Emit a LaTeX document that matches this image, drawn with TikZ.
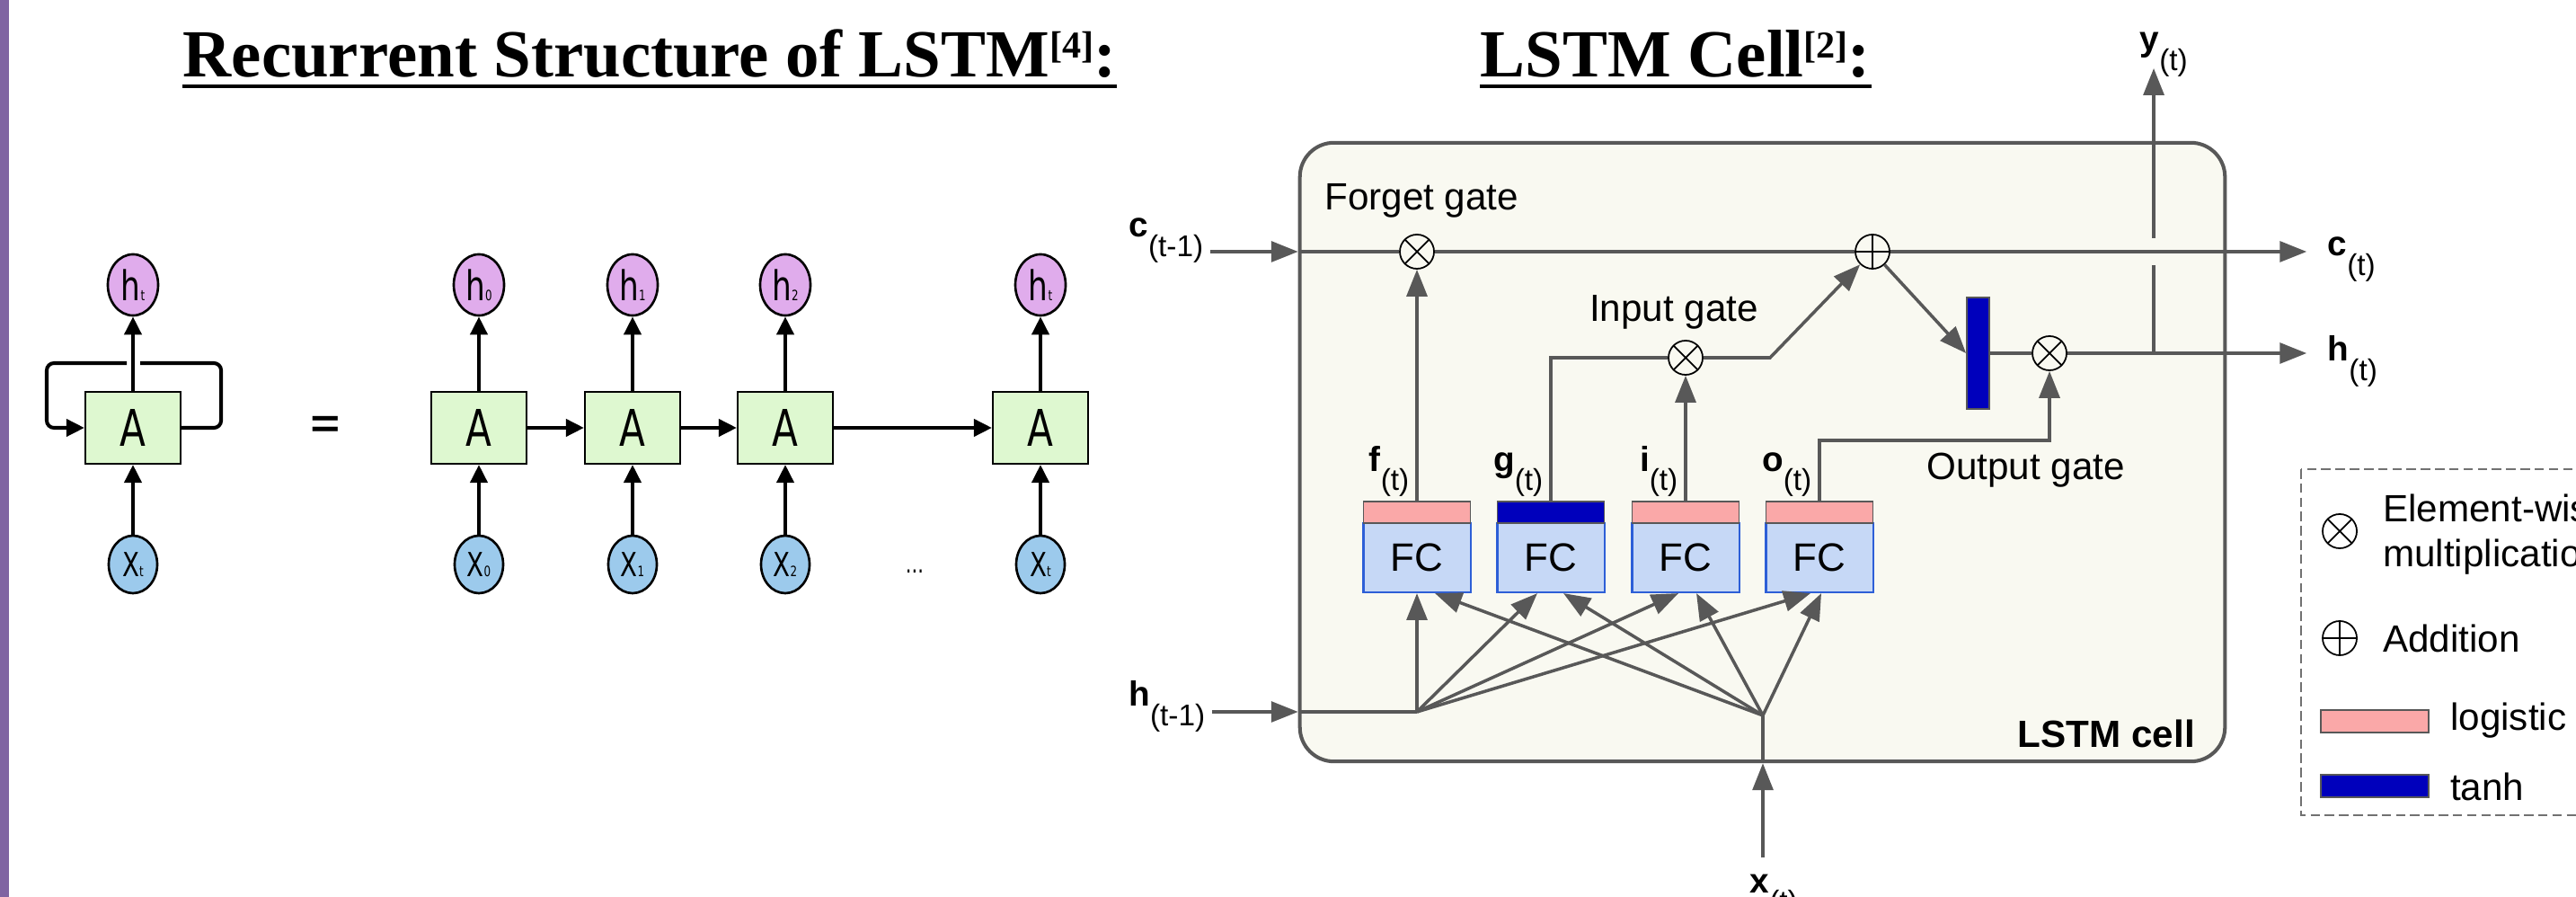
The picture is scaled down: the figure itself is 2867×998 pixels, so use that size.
\documentclass[tikz,border=0pt]{standalone}
\usepackage{fontspec}
\setmainfont{Liberation Sans}
\newfontfamily\titlefont{Liberation Serif}
\newfontfamily\chainfont{DejaVu Sans}[FakeStretch=0.75]
\usetikzlibrary{arrows.meta,shapes.geometric,positioning}

\definecolor{sidebar}{RGB}{128,100,162}
\definecolor{agreen}{RGB}{222,248,208}
\definecolor{hpurple}{RGB}{224,172,236}
\definecolor{xblue}{RGB}{156,202,236}
\definecolor{cellbg}{RGB}{249,249,241}
\definecolor{wire}{RGB}{88,88,88}
\definecolor{logi}{RGB}{250,168,168}
\definecolor{tanhc}{RGB}{0,0,188}
\definecolor{fcfill}{RGB}{198,216,246}
\definecolor{fcline}{RGB}{45,95,215}

\newcommand{\vlab}[2]{\textbf{#1}\raisebox{-6pt}{\fontsize{9.5}{9.5}\selectfont(#2)}}
\newcommand{\hlab}[1]{{\fontsize{13}{13}\selectfont h}{\fontsize{4.5}{4.5}\selectfont #1}}
\newcommand{\xlab}[1]{{\fontsize{10.5}{10.5}\selectfont X}{\fontsize{4.5}{4.5}\selectfont #1}}
\newcommand{\refmark}[1]{\raisebox{6pt}{\fontsize{12}{12}\selectfont[#1]}}

\tikzset{pxgrid/.style={x=0.01cm,y=-0.01cm}}
\tikzset{ttl/.style={inner sep=0pt,font=\titlefont\bfseries\fontsize{21.3}{21.3}\selectfont},
         abox/.style={draw=black,line width=0.6pt,fill=agreen,minimum width=1.06cm,minimum height=0.8cm,inner sep=0pt,font=\chainfont\fontsize{16}{16}\selectfont},
         hnode/.style={ellipse,draw=black,line width=0.75pt,fill=hpurple,minimum width=0.56cm,minimum height=0.68cm,inner sep=0pt,font=\chainfont},
         xnode/.style={ellipse,draw=black,line width=0.75pt,fill=xblue,minimum width=0.54cm,minimum height=0.64cm,inner sep=0pt,font=\chainfont},
         chain/.style={draw=black,line width=1.15pt,-{Triangle[length=5.7pt,width=5.4pt]}},
         chainl/.style={draw=black,line width=1.15pt}}
\tikzset{wirel/.style={draw=wire,line width=1pt},
         wirearr/.style={wirel,-{Triangle[length=8.5pt,width=6.5pt]}},
         cellbox/.style={draw=wire,line width=1.15pt,fill=cellbg,rounded corners=0.38cm,minimum width=10.29cm,minimum height=6.88cm},
         fcbody/.style={draw=fcline,line width=0.6pt,fill=fcfill,minimum width=1.19cm,minimum height=0.77cm,inner sep=0pt,font=\fontsize{12.5}{12.5}\selectfont},
         fcband/.style={draw=wire,line width=0.5pt,minimum width=1.19cm,minimum height=0.24cm,inner sep=0pt},
         tanhbar/.style={draw=wire,line width=0.5pt,fill=tanhc,minimum width=0.25cm,minimum height=1.24cm,inner sep=0pt},
         mult/.style={circle,draw=black,line width=0.5pt,fill=cellbg,minimum size=0.38cm,inner sep=0pt,
           path picture={\draw[line width=0.5pt] (path picture bounding box.north west) -- (path picture bounding box.south east)
                         (path picture bounding box.north east) -- (path picture bounding box.south west);}},
         plus/.style={circle,draw=black,line width=0.5pt,fill=cellbg,minimum size=0.38cm,inner sep=0pt,
           path picture={\draw[line width=0.5pt] (path picture bounding box.north) -- (path picture bounding box.south)
                         (path picture bounding box.west) -- (path picture bounding box.east);}},
         gtext/.style={inner sep=1pt,font=\fontsize{12}{14.2}\selectfont},
         iolab/.style={inner sep=2pt,font=\fontsize{11}{11}\selectfont},
         legbar/.style={draw=wire,line width=0.6pt,minimum width=1.2cm,minimum height=0.25cm,inner sep=0pt}}

\begin{document}
\begin{tikzpicture}[pxgrid]
    \useasboundingbox (0,0) rectangle (2867,998);
    \fill[sidebar] (0,0) rectangle (10,998);
    % titles
    \node[ttl,anchor=base west] (ttlrec) at (203,86) {Recurrent Structure of LSTM\refmark{4}:};
    \node[ttl,anchor=base west] (ttlcell) at (1647,86) {LSTM Cell\refmark{2}:};
    \draw[line width=1.4pt] ([yshift=-2.85pt]ttlrec.base west) -- ([yshift=-2.85pt]ttlrec.base east);
    \draw[line width=1.4pt] ([yshift=-2.85pt]ttlcell.base west) -- ([yshift=-2.85pt]ttlcell.base east);

    % folded RNN
    \node[abox] (ar) at (148,476) {A};
    \node[hnode] (hr) at (148,317) {\hlab{t}};
    \node[xnode] (xr) at (148,628) {\xlab{t}};
    \draw[chain] (xr) -- (ar);
    \draw[chain] (ar) -- (hr);
    \coordinate (lgapr) at (156,404);
    \coordinate (lgapl) at (141,404);
    \draw[chainl,rounded corners=2.3pt] (ar.east) -- ++(44,0) |- (lgapr);
    \draw[chain,rounded corners=2.3pt] (lgapl) -- ++(-89,0) |- (ar.west);
    \node[font=\chainfont\fontsize{17}{17}\selectfont] (eq) at (362,477) {=};

    % unrolled RNN
    \foreach \n/\x in {0/533, 1/704, 2/874, t/1158} {
        \node[abox] (a\n) at (\x,476) {A};
        \node[hnode] (h\n) at (\x,317) {\hlab{\n}};
        \node[xnode] (x\n) at (\x,628) {\xlab{\n}};
        \draw[chain] (x\n) -- (a\n);
        \draw[chain] (a\n) -- (h\n);
    }
    \draw[chain] (a0) -- (a1);
    \draw[chain] (a1) -- (a2);
    \draw[chain] (a2) -- (at);
    \node[font=\chainfont\fontsize{8}{8}\selectfont] (dots) at (1018,636) {...};

    % LSTM cell
    \node[cellbox] (cell) at (1961.5,503) {};
    \foreach \g/\x/\col in {f/1577/logi, g/1726/tanhc, i/1876/logi, o/2025/logi} {
        \node[fcbody] (fc\g) at (\x,620.5) {FC};
        \node[fcband,fill=\col] (band\g) at (\x,570) {};
        \node[iolab,inner sep=0pt,anchor=south east] (lab\g) at (\x-8,553) {\vlab{\g}{t}};
    }
    \node[mult] (fmul) at (1577,280) {};
    \node[plus] (add) at (2084,280) {};
    \node[mult] (imul) at (1876,398) {};
    \node[mult] (omul) at (2281,393) {};
    \node[tanhbar] (tbar) at (2201.5,393) {};
    \node[gtext,anchor=west] (fgate) at (1470,223) {Forget gate};
    \node[gtext] (igate) at (1863,347) {Input gate};
    \node[gtext,anchor=west] (ogate) at (2140,523) {Output gate};
    \node[gtext,anchor=base east,font=\bfseries\fontsize{12}{12}\selectfont] (celllab) at (2447,832) {LSTM cell};

    \node[iolab,anchor=base east] (cprev) at (1347,264) {\vlab{c}{t-1}};
    \node[iolab,anchor=base east] (hprev) at (1349,786) {\vlab{h}{t-1}};
    \node[iolab,anchor=base west] (cout) at (2583,285) {\vlab{c}{t}};
    \node[iolab,anchor=base west] (hout) at (2583,402) {\vlab{h}{t}};
    \node[iolab,anchor=base west] (yout) at (2374,57) {\vlab{y}{t}};
    \node[iolab,anchor=base west] (xin) at (1940,993) {\vlab{x}{t}};

    \coordinate (yjoin) at (2397,393);
    \coordinate (ygapb) at (2397,295);
    \coordinate (ygapt) at (2397,265);
    \coordinate (ytop) at (2397,76);
    \coordinate (ibend) at (1970,398);
    \coordinate (obend) at (2281,490);
    \coordinate (hjoin) at (1577,792);
    \coordinate (xjoin) at (1962,796);

    % cell state and outputs
    \draw[wirearr] (cprev.east |- fmul) -- (cell.west |- fmul);
    \draw[wirel] (cell.west |- fmul) -- (fmul);
    \draw[wirel] (fmul) -- (add);
    \draw[wirearr,shorten >=4.5pt] (add) -- (cout.west |- add);
    \draw[wirearr] (add) -- (tbar.west);
    \draw[wirel] (tbar) -- (omul);
    \draw[wirearr,shorten >=4.5pt] (omul) -- (hout.west |- omul);
    \draw[wirel] (yjoin) -- (ygapb);
    \draw[wirearr] (ygapt) -- (ytop);
    % gates
    \draw[wirearr] (bandf) -- (fmul);
    \draw[wirearr] (bandi) -- (imul);
    \draw[wirel] (bandg) |- (imul);
    \draw[wirearr] (imul) -- (ibend) -- (add);
    \draw[wirearr] (bando) |- (obend) -- (omul);
    % inputs
    \draw[wirearr] (hprev.east |- hjoin) -- (cell.west |- hjoin);
    \draw[wirel] (cell.west |- hjoin) -- (hjoin);
    \draw[wirearr,shorten <=3pt] (xjoin |- xin.north) -- (xjoin |- cell.south);
    \draw[wirel] (xjoin |- cell.south) -- (xjoin);
    \foreach \g/\hs/\xs in {f/0/20, g/-15/14, i/-8/12, o/-10/2} {
        \draw[wirearr] (hjoin) -- ([xshift=\hs*0.01cm]fc\g.south);
        \draw[wirearr] (xjoin) -- ([xshift=\xs*0.01cm]fc\g.south);
    }

    % legend
    \draw[draw=wire!85,line width=0.6pt,dash pattern=on 3pt off 1.5pt] (2561,522) rectangle (2960,907);
    \node[mult,fill=white] (lmul) at (2604,591) {};
    \node[gtext,anchor=west,align=left] (lmultxt) at (2648,595) {Element-wise\\multiplication};
    \node[plus,fill=white] (ladd) at (2604,710) {};
    \node[gtext,anchor=west] (laddtxt) at (2648,710) {Addition};
    \node[legbar,fill=logi] (llog) at (2643,802.5) {};
    \node[gtext,anchor=west] (llogtxt) at (2723,802) {logistic};
    \node[legbar,fill=tanhc] (ltanh) at (2643,874.5) {};
    \node[gtext,anchor=west] (ltanhtxt) at (2723,875) {tanh};
\end{tikzpicture}
\end{document}
